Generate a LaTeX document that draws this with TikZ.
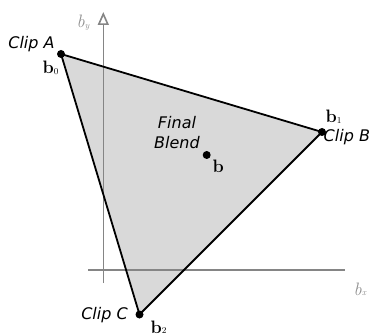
\documentclass[tikz,border=0pt]{standalone}
\usepackage{fontspec}
\newfontfamily\lblfont{DejaVu Sans}
\usetikzlibrary{arrows.meta}
\definecolor{triFill}{HTML}{D9D9D9}
\definecolor{axisGray}{HTML}{858585}
\definecolor{axisLbl}{HTML}{909090}
\newcommand{\subsc}[1]{\raisebox{-0.5pt}{\fontsize{9}{9}\selectfont #1}}
\tikzset{
  clip label/.style={font=\lblfont\itshape\fontsize{16}{20}\selectfont, inner sep=0pt},
  vec label/.style={font=\fontsize{18}{20}\selectfont, inner sep=0pt, anchor=base west},
  axis label/.style={font=\itshape\fontsize{18}{20}\selectfont, text=axisLbl, inner sep=0pt, anchor=base west},
  axis line/.style={draw=axisGray, line width=1.6pt},
  edge line/.style={draw=black, line width=1.8pt},
  dot/.style={circle, fill=black, inner sep=0pt, minimum size=8pt}
}
\begin{document}
\begin{tikzpicture}[x=1pt,y=-1pt]
\useasboundingbox (0,0) rectangle (371,336);
% triangle vertices
\coordinate (A) at (61,54);
\coordinate (B) at (322,132);
\coordinate (C) at (139.5,314.5);
\fill[triFill] (A) -- (B) -- (C) -- cycle;
% axes
\coordinate (xl) at (88,270);
\coordinate (xr) at (345,270);
\coordinate (yb) at (103.3,283);
\coordinate (yt) at (103.3,12);
\draw[axis line] (xl) -- (xr);
\draw[axis line, -{Triangle[open, length=13pt, width=11pt, fill=white]}] (yb) -- (yt);
\node[axis label] (by) at (76.5,28) {b\subsc{y}};
\node[axis label] (bx) at (353.5,295) {b\subsc{x}};
% edges
\draw[edge line, line join=round] (A) -- (B) -- (C) -- cycle;
% dots
\node[dot] (dA) at (A) {};
\node[dot] (dB) at (B) {};
\node[dot] (dC) at (C) {};
\node[dot] (dF) at (206.7,155) {};
% labels
\node[clip label, anchor=base] (la) at (31.5,49) {Clip A};
\node[clip label, anchor=base west] (lb) at (323.5,142) {Clip B};
\node[clip label, anchor=base] (lc) at (104.5,319) {Clip C};
\node[clip label, anchor=north, align=center] (lf) at (177,116) {Final\\Blend};
\node[vec label] (b0) at (42.5,74) {\textbf{b}\subsc{0}};
\node[vec label] (b1) at (325.5,123) {\textbf{b}\subsc{1}};
\node[vec label] (b2) at (150.5,333) {\textbf{b}\subsc{2}};
\node[vec label] (bb) at (212.5,173) {\textbf{b}};
\end{tikzpicture}
\end{document}
